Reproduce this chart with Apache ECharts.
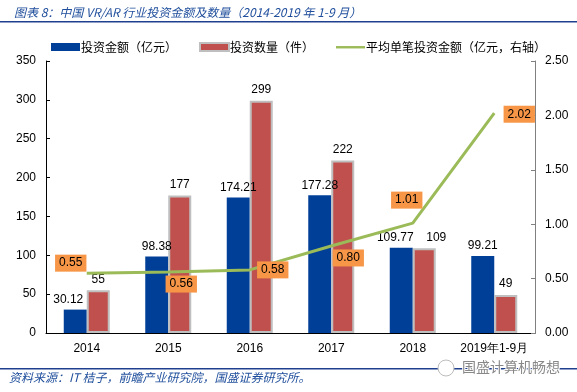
<!DOCTYPE html>
<html><head><meta charset="utf-8">
<script src="https://cdn.jsdelivr.net/npm/echarts@6/dist/echarts.min.js"></script>
<style>html,body{margin:0;padding:0;background:#fff}#c{width:577px;height:392px}</style>
</head><body><div id="c"></div>
<script>
const categories = ['2014','2015','2016','2017','2018','2019年1-9月'];
const amount = [30.12, 98.38, 174.21, 177.28, 109.77, 99.21];
const count = [55, 177, 299, 222, 109, 49];
const avg = [0.55, 0.56, 0.58, 0.80, 1.01, 2.02];
const leftTicks = [0, 350, 50];
const rightTicks = [0, 2.5, 0.5];
const labelOffsets = [[-16,-10],[13,12],[23,0],[17,12],[-6,-23],[25,1]];
const amountLabelShift = [-7, 0, 0, 0, -6, 0];
const countLabelShift = [0, 0, 0, 0, 12, 0];

const font = '"Liberation Sans", Arial, sans-serif';
const cjk = '"Noto Sans CJK SC", sans-serif';
const chart = echarts.init(document.getElementById('c'));
chart.setOption({
  animation: false,
  textStyle: {fontFamily: font},
  title: {
    text: '图表 8：中国 VR/AR 行业投资金额及数量（2014-2019 年 1-9 月）',
    left: 9, top: 1,
    textStyle: {fontSize: 12, fontStyle: 'italic', fontWeight: 'normal', color: '#1f4e9c', fontFamily: cjk}
  },
  legend: {
    left: 46, top: 36, itemWidth: 29, itemHeight: 8, itemGap: 22,
    textStyle: {fontSize: 12, color: '#000', fontFamily: cjk, padding: [0,0,0,-4]},
    data: [
      {name: '投资金额（亿元）', icon: 'rect'},
      {name: '投资数量（件）', icon: 'rect'},
      {name: '平均单笔投资金额（亿元，右轴）', icon: 'path://M0,0L0,0M0,3L30,3L30,5.5L0,5.5ZM30,8L30,8',
       itemStyle: {color: '#9bbb59', opacity: 1}}
    ]
  },
  grid: {left: 46, right: 42, top: 61, bottom: 59},
  xAxis: {
    type: 'category', data: categories,
    axisLine: {lineStyle: {color: '#000'}},
    axisTick: {inside: true, length: 4, lineStyle: {color: '#000'}},
    axisLabel: {color: '#000', fontSize: 12, margin: 10, interval: 0, fontFamily: font}
  },
  yAxis: [
    {type: 'value', min: leftTicks[0], max: leftTicks[1], interval: leftTicks[2],
     axisLine: {show: true, lineStyle: {color: '#000'}},
     axisTick: {show: true, inside: true, length: 4, lineStyle: {color: '#000'}},
     splitLine: {show: false},
     axisLabel: {color: '#000', fontSize: 12, margin: 10}},
    {type: 'value', min: rightTicks[0], max: rightTicks[1], interval: rightTicks[2],
     position: 'right',
     axisLine: {show: true, lineStyle: {color: '#808080'}},
     axisTick: {show: true, inside: true, length: 4, lineStyle: {color: '#808080'}},
     splitLine: {show: false},
     axisLabel: {color: '#000', fontSize: 12, margin: 10, formatter: v => v.toFixed(2)}}
  ],
  series: [
    {name: '投资金额（亿元）', type: 'bar', barWidth: 23, barGap: '0%',
     data: amount.map((v, i) => ({value: v, label: {offset: [amountLabelShift[i], 0]}})),
     itemStyle: {color: '#003f98'},
     label: {show: true, position: 'top', color: '#000', fontSize: 12, distance: 4, formatter: p => p.value.toFixed(2)}},
    {name: '投资数量（件）', type: 'bar', barWidth: 23,
     data: count.map((v, i) => ({value: v, label: {offset: [countLabelShift[i], 0]}})),
     itemStyle: {color: '#c0504d', borderColor: '#bfbfbf', borderWidth: 2},
     label: {show: true, position: 'top', color: '#000', fontSize: 12, distance: 5}},
    {name: '平均单笔投资金额（亿元，右轴）', type: 'line', yAxisIndex: 1,
     data: avg.map((v, i) => ({value: v, label: {offset: labelOffsets[i]}})),
     symbol: 'circle', symbolSize: 0.1, showSymbol: true,
     itemStyle: {color: '#9bbb59'},
     lineStyle: {color: '#9bbb59', width: 3},
     z: 5,
     label: {show: true, position: 'inside', color: '#000', fontSize: 12,
       backgroundColor: '#f79646', padding: [3, 4, 2, 4],
       formatter: p => p.value.toFixed(2)}}
  ],
  graphic: [
    {type: 'rect', shape: {x: 0, y: 21, width: 577, height: 1.5}, style: {fill: '#1f3f8f'}},
    {type: 'rect', shape: {x: 0, y: 368, width: 577, height: 1.5}, style: {fill: '#1f3f8f'}},
    {type: 'text', left: 9, top: 371, style: {text: '资料来源：IT 桔子，前瞻产业研究院，国盛证券研究所。', fontSize: 12, fontStyle: 'italic', fill: '#1f4e9c', fontFamily: cjk}},
    {type: 'circle', shape: {cx: 446, cy: 368, r: 8}, style: {fill: '#fff', stroke: '#bbb', lineWidth: 1}},
    {type: 'text', left: 461, top: 359, style: {text: '国盛计算机畅想', fontSize: 14, fill: '#888', fontFamily: cjk, stroke: '#fff', lineWidth: 2}}
  ]
});
</script></body></html>
